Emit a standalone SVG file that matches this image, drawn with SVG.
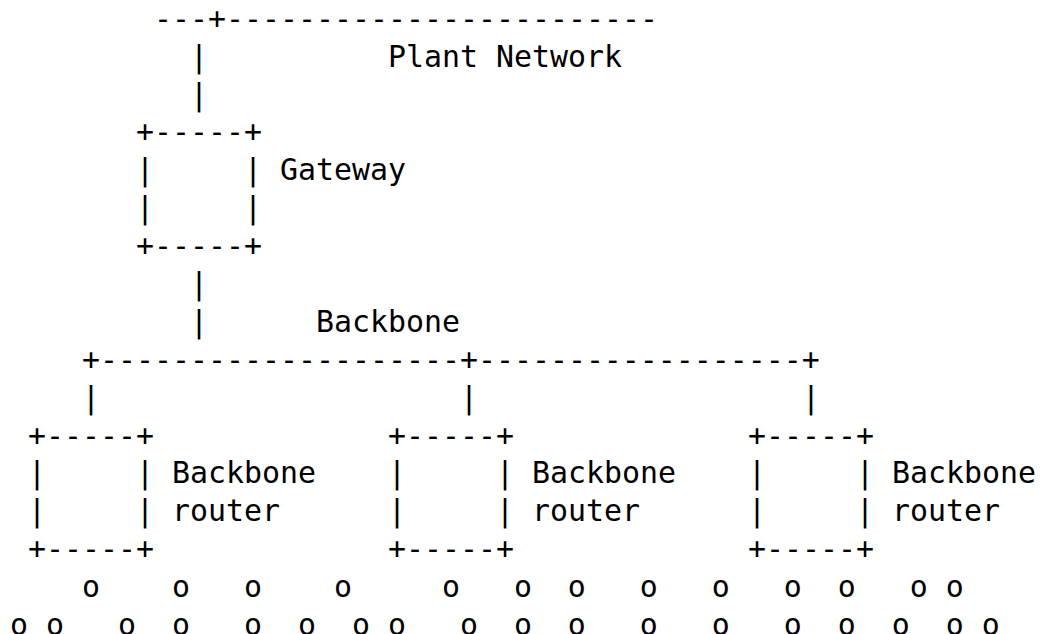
<svg xmlns="http://www.w3.org/2000/svg" width="1045" height="634" viewBox="0 0 1045 634">
  <style>
    text { font-family: "DejaVu Sans Mono", "Liberation Mono", monospace; font-size: 29.9px; fill: #000; white-space: pre; }
  </style>
  <rect x="0" y="0" width="1045" height="634" fill="#fff"/>
  <g id="connectors" xml:space="preserve">
    <text x="154" y="28.8">---+------------------------</text>
    <text x="190" y="66.7">|</text>
    <text x="190" y="104.6">|</text>
    <text x="190" y="294">|</text>
    <text x="190" y="331.8">|</text>
    <text x="82" y="369.7">+--------------------+------------------+</text>
    <text x="82" y="407.6">|</text>
    <text x="460" y="407.6">|</text>
    <text x="802" y="407.6">|</text>
  </g>
  <g id="plant-network">
    <text x="388" y="66.7">Plant Network</text>
  </g>
  <g id="backbone-label">
    <text x="316" y="331.8">Backbone</text>
  </g>
  <g id="gateway" xml:space="preserve">
    <text x="136" y="142.4">+-----+</text>
    <text x="136" y="180.3">|     |</text>
    <text x="136" y="218.2">|     |</text>
    <text x="136" y="256.1">+-----+</text>
    <text x="280" y="180.3">Gateway</text>
  </g>
  <g id="router-1" xml:space="preserve">
    <text x="28" y="445.5">+-----+</text>
    <text x="28" y="483.4">|     |</text>
    <text x="28" y="521.2">|     |</text>
    <text x="28" y="559.1">+-----+</text>
    <text x="172" y="483.4">Backbone</text>
    <text x="172" y="521.2">router</text>
  </g>
  <g id="router-2" xml:space="preserve">
    <text x="388" y="445.5">+-----+</text>
    <text x="388" y="483.4">|     |</text>
    <text x="388" y="521.2">|     |</text>
    <text x="388" y="559.1">+-----+</text>
    <text x="532" y="483.4">Backbone</text>
    <text x="532" y="521.2">router</text>
  </g>
  <g id="router-3" xml:space="preserve">
    <text x="748" y="445.5">+-----+</text>
    <text x="748" y="483.4">|     |</text>
    <text x="748" y="521.2">|     |</text>
    <text x="748" y="559.1">+-----+</text>
    <text x="892" y="483.4">Backbone</text>
    <text x="892" y="521.2">router</text>
  </g>
  <g id="devices" xml:space="preserve">
    <text x="10" y="597">    o    o   o    o     o   o  o   o   o   o  o   o o</text>
    <text x="10" y="634.9">o o   o  o   o  o  o o   o  o  o   o   o   o  o  o  o o</text>
  </g>
</svg>
